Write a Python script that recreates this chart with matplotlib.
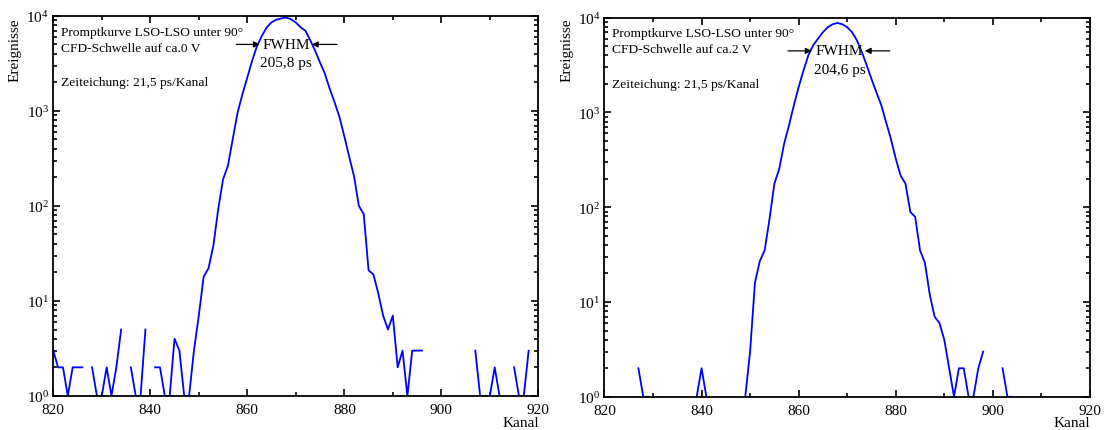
import matplotlib
matplotlib.use('Agg')
import matplotlib.pyplot as plt
from matplotlib.ticker import LogLocator, MultipleLocator
import numpy as np

plt.rcParams['font.family'] = ['Liberation Serif', 'DejaVu Serif']
plt.rcParams['mathtext.fontset'] = 'stix'

# channels 820..920
kanal = np.arange(820, 921)

# counts per channel, left: CFD threshold ~0 V
counts_0v = [
    3, 2, 2, 1, 2, 2, 2, 0, 2, 1,            # 820-829
    1, 2, 1, 2, 5, 0, 2, 1, 1, 5,            # 830-839
    0, 2, 2, 1, 1, 4, 3, 1, 1, 3,            # 840-849
    7, 18, 22, 38, 92, 190, 264, 505, 960, 1500,          # 850-859
    2240, 3380, 4800, 6150, 7550, 8550, 9100, 9400, 9600, 9200,  # 860-869
    8500, 7550, 6950, 5500, 4270, 3220, 2450, 1700, 1230, 860,   # 870-879
    540, 330, 205, 100, 82, 21, 19, 12, 7, 5,  # 880-889
    7, 2, 3, 1, 3, 3, 3, 0, 0, 0,            # 890-899
    0, 0, 0, 0, 0, 0, 0, 3, 1, 1,            # 900-909
    1, 2, 1, 0, 0, 2, 1, 1, 3, 0,            # 910-919
    0,                                       # 920
]

# counts per channel, right: CFD threshold ~2 V
counts_2v = [
    0, 0, 0, 0, 0, 0, 0, 2, 1, 1,            # 820-829
    0, 0, 0, 0, 0, 0, 0, 0, 0, 1,            # 830-839
    2, 1, 0, 0, 0, 0, 0, 0, 0, 1,            # 840-849
    3, 16, 27, 35, 75, 177, 253, 465, 725, 1180,          # 850-859
    1850, 2770, 4000, 5100, 6000, 7000, 7900, 8500, 8750, 8500,  # 860-869
    7900, 7000, 5750, 4350, 3150, 2250, 1630, 1200, 790, 525,    # 870-879
    325, 215, 177, 89, 79, 35, 26, 12, 7, 6,   # 880-889
    4, 2, 1, 2, 2, 1, 1, 2, 3, 0,            # 890-899
    0, 0, 2, 1, 1, 0, 0, 0, 0, 0,            # 900-909
    0, 0, 0, 0, 0, 0, 0, 0, 0, 0,            # 910-919
    0,                                       # 920
]

titles = [
    ['Promptkurve LSO-LSO unter 90°', 'CFD-Schwelle auf ca.0 V', 'Zeiteichung: 21,5 ps/Kanal'],
    ['Promptkurve LSO-LSO unter 90°', 'CFD-Schwelle auf ca.2 V', 'Zeiteichung: 21,5 ps/Kanal'],
]
fwhm_labels = ['205,8 ps', '204,6 ps']
fwhm_left = [(857.7, 862.6), (857.8, 862.7)]
fwhm_right = [(878.5, 873.3), (878.8, 873.6)]
fwhm_y = [5000, 4450]
fwhm_x = [868.0, 868.4]

fig = plt.figure(figsize=(11.05, 4.31), dpi=100)
ax1 = fig.add_axes([0.0482, 0.079, 0.4390, 0.882])
ax2 = fig.add_axes([0.5470, 0.077, 0.4394, 0.880])

for i, (ax, counts) in enumerate(zip([ax1, ax2], [counts_0v, counts_2v])):
    y = np.array(counts, dtype=float)
    y[y <= 0] = np.nan
    ax.plot(kanal, y, color='#0000ff', lw=1.3)
    ax.set_yscale('log')
    ax.set_xlim(820, 920)
    ax.set_ylim(1, 1e4)
    ax.xaxis.set_major_locator(MultipleLocator(20))
    ax.xaxis.set_minor_locator(MultipleLocator(10))
    ax.yaxis.set_major_locator(LogLocator(base=10, numticks=10))
    ax.yaxis.set_minor_locator(LogLocator(base=10, subs=np.arange(2, 10), numticks=10))
    ax.tick_params(which='both', direction='in', top=True, right=True,
                   labelsize=11, width=1.2, pad=3)
    ax.tick_params(axis='x', which='major', pad=5)
    ax.tick_params(which='major', length=5)
    ax.tick_params(which='minor', length=3)
    for s in ax.spines.values():
        s.set_linewidth(1.3)

    t = titles[i]
    ax.text(0.016, 0.958, t[0], transform=ax.transAxes, fontsize=9.7, va='center')
    ax.text(0.016, 0.916, t[1], transform=ax.transAxes, fontsize=9.7, va='center')
    ax.text(0.016, 0.826, t[2], transform=ax.transAxes, fontsize=9.7, va='center')

    ax.text(fwhm_x[i], fwhm_y[i], 'FWHM', fontsize=11, ha='center', va='center')
    ax.text(fwhm_x[i], fwhm_y[i] * 0.64, fwhm_labels[i], fontsize=11, ha='center', va='center')
    ax.annotate('', xy=(fwhm_left[i][1], fwhm_y[i]), xytext=(fwhm_left[i][0], fwhm_y[i]),
                arrowprops=dict(arrowstyle='-|>', color='black', lw=0.9, mutation_scale=9,
                                shrinkA=0, shrinkB=0))
    ax.annotate('', xy=(fwhm_right[i][1], fwhm_y[i]), xytext=(fwhm_right[i][0], fwhm_y[i]),
                arrowprops=dict(arrowstyle='-|>', color='black', lw=0.9, mutation_scale=9,
                                shrinkA=0, shrinkB=0))

fig.text(15 / 1105, 1 - 18 / 431, 'Ereignisse', rotation=90, ha='center', va='top', fontsize=11)
fig.text(567 / 1105, 1 - 18 / 431, 'Ereignisse', rotation=90, ha='center', va='top', fontsize=11)
fig.text(539 / 1105, 1 - 424 / 431, 'Kanal', ha='right', va='center', fontsize=11)
fig.text(1090 / 1105, 1 - 424 / 431, 'Kanal', ha='right', va='center', fontsize=11)

fig.savefig('out.png', dpi=100)
